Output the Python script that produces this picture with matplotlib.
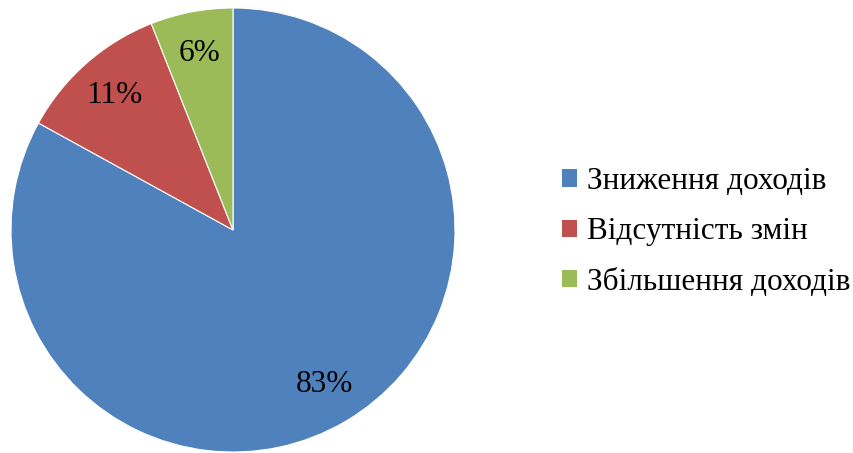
import matplotlib.pyplot as plt
from matplotlib.patches import Patch

# Income change shares (pie, clockwise from 12 o'clock)
categories = ["Зниження доходів", "Відсутність змін", "Збільшення доходів"]
shares = [83, 11, 6]
colors = ["#4F81BD", "#C0504D", "#9BBB59"]

plt.rcParams["font.family"] = ["Liberation Serif", "DejaVu Serif"]

fig = plt.figure(figsize=(8.54, 4.53), dpi=100)
ax = fig.add_axes([11 / 854, 1 / 453, 444 / 854, 444 / 453])

wedges, texts, autotexts = ax.pie(
    shares, colors=colors, startangle=90, counterclock=False,
    autopct=lambda p: f"{p:.0f}%", pctdistance=0.81,
    wedgeprops=dict(edgecolor="white", linewidth=0.8),
    textprops=dict(fontsize=22.5, color="black"),
)
ax.set_xlim(-1, 1)
ax.set_ylim(-1, 1)
ax.set_aspect("equal")

handles = [Patch(facecolor=c, edgecolor="none") for c in colors]
fig.legend(handles, categories, loc="center left",
           bbox_to_anchor=(562 / 854, 0.488), frameon=False, fontsize=22.5,
           borderpad=0, borderaxespad=0,
           handlelength=0.48, handleheight=0.48, handletextpad=0.32,
           labelspacing=0.68)

fig.savefig("out.png", dpi=100)
